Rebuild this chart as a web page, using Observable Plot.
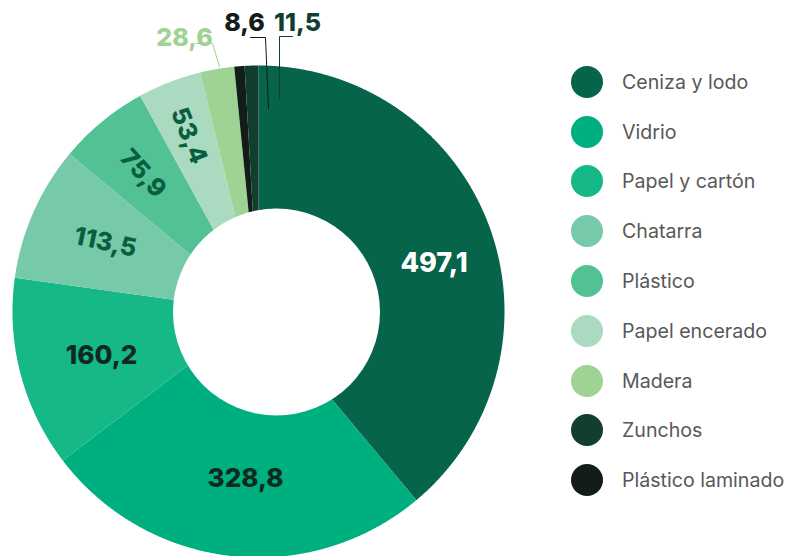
<!DOCTYPE html>
<html><head><meta charset="utf-8">
<script src="https://cdn.jsdelivr.net/npm/d3@7"></script>
<script src="https://cdn.jsdelivr.net/npm/@observablehq/plot@0.6"></script>
<style>
html,body{margin:0;padding:0;background:#fff;}
#wrap{position:relative;width:800px;height:556px;overflow:hidden;font-family:Inter,"Open Sans",sans-serif;}
#chart{position:absolute;left:0;top:0;}
#legend{position:absolute;left:571px;top:57px;}
.item{display:flex;align-items:center;height:49.8px;}
.sw{width:32px;height:32px;border-radius:50%;margin-right:19px;flex:none;}
.lb{font-size:19.6px;color:#585858;white-space:nowrap;}
</style></head><body><div id="wrap"><div id="chart"></div><div id="legend"></div></div>
<script>
// ---- data ----
const categories = ["Ceniza y lodo","Vidrio","Papel y cartón","Chatarra","Plástico","Papel encerado","Madera","Plástico laminado","Zunchos"];
const values = [497.1, 328.8, 160.2, 113.5, 75.9, 53.4, 28.6, 8.6, 11.5];
const valueLabels = ["497,1","328,8","160,2","113,5","75,9","53,4","28,6","8,6","11,5"];
const legendOrder = ["Ceniza y lodo","Vidrio","Papel y cartón","Chatarra","Plástico","Papel encerado","Madera","Zunchos","Plástico laminado"];
const legendColors = ["#06644a","#00af7f","#15b886","#76c9a9","#52c294","#aadac0","#9fd394","#123f2d","#121d1a"];

// ---- layout ----
const W = 520, H = 556, cx = 258, cy = 311, R = 246;
const hole = {dx: 18, dy: 0.5, r: 103.5};
const insideLabels = {
  "Ceniza y lodo": {r: 182, da: 4.7, rot: 0, fill: "#ffffff", size: 27},
  "Vidrio": {r: 168, da: -2, rot: 0, fill: "#0e2a1f", size: 26},
  "Papel y cartón": {r: 163, da: -1, rot: 0, fill: "#0e2a1f", size: 26},
  "Chatarra": {r: 168, da: 0.4, rot: 12, fill: "#0a5e40", size: 25},
  "Plástico": {r: 180, da: -0.5, rot: 48, fill: "#0a5e40", size: 25},
  "Papel encerado": {r: 189, da: -0.4, rot: 68, fill: "#0a5e40", size: 25}
};
const outsideLabels = {
  "Madera": {text: [-74, -274], line: [[-62,-268],[-46,-268],[-39,-245]], fill: "#9fd394"},
  "Plástico laminado": {text: [-14, -289], line: [[-8,-274],[7,-274],[10,-203]], fill: "#121d1a"},
  "Zunchos": {text: [39, -289], line: [[34,-275],[21,-275],[21,-212]], fill: "#123f2d"}
};

const rows = categories.map((c, i) => ({name: c, value: values[i], label: valueLabels[i]}));
const slices = d3.pie().sort(null).value(d => d.value)(rows);

const step = Math.PI / 720;
const poly = [];
for (const s of slices) {
  poly.push({name: s.data.name, x: 0, y: 0});
  const n = Math.max(2, Math.ceil((s.endAngle - s.startAngle) / step));
  for (let k = 0; k <= n; k++) {
    const a = s.startAngle + (s.endAngle - s.startAngle) * k / n;
    poly.push({name: s.data.name, x: R * Math.sin(a), y: -R * Math.cos(a)});
  }
}

const marks = [
  Plot.line(poly, {x: "x", y: "y", z: "name", fill: "name", stroke: "none", curve: "linear"}),
  Plot.dot([{x: hole.dx, y: hole.dy}], {x: "x", y: "y", r: hole.r, fill: "white", stroke: "none"})
];

for (const s of slices) {
  const L = insideLabels[s.data.name];
  if (L) {
    const a = (s.startAngle + s.endAngle) / 2 + L.da * Math.PI / 180;
    marks.push(Plot.text([{x: L.r * Math.sin(a), y: -L.r * Math.cos(a), t: s.data.label}], {
      x: "x", y: "y", text: "t", rotate: L.rot, fill: L.fill, fontSize: L.size,
      fontWeight: 800, fontFamily: "Inter, 'Open Sans', sans-serif"
    }));
  }
  const O = outsideLabels[s.data.name];
  if (O) {
    marks.push(Plot.line(O.line.map(p => ({x: p[0], y: p[1]})), {x: "x", y: "y", stroke: O.fill, strokeWidth: 1}));
    marks.push(Plot.text([{x: O.text[0], y: O.text[1], t: s.data.label}], {
      x: "x", y: "y", text: "t", fill: O.fill, fontSize: 25, fontWeight: 800,
      fontFamily: "Inter, 'Open Sans', sans-serif"
    }));
  }
}

const chart = Plot.plot({
  width: W, height: H,
  marginTop: 0, marginRight: 0, marginBottom: 0, marginLeft: 0,
  x: {domain: [-cx, W - cx], range: [0, W], axis: null},
  y: {domain: [-cy, H - cy], range: [0, H], axis: null},
  color: {domain: legendOrder, range: legendColors},
  style: {overflow: "visible", background: "transparent"},
  marks
});
document.getElementById("chart").appendChild(chart);

const legend = document.getElementById("legend");
legendOrder.forEach((name, i) => {
  const it = document.createElement("div");
  it.className = "item";
  const sw = document.createElement("div");
  sw.className = "sw";
  sw.style.background = legendColors[i];
  const lb = document.createElement("div");
  lb.className = "lb";
  lb.textContent = name;
  it.appendChild(sw); it.appendChild(lb);
  legend.appendChild(it);
});
</script></body></html>
